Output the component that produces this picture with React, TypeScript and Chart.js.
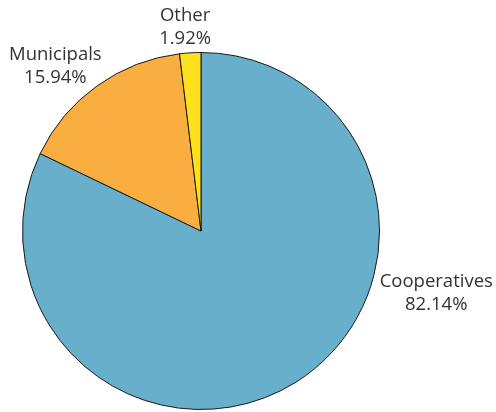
import React, { useEffect, useRef } from "react";
import { Chart, registerables } from "chart.js";

Chart.register(...registerables);

const categories = ["Cooperatives", "Municipals", "Other"];
const shares = [82.14, 15.94, 1.92];
const colors = ["#67AFCB", "#FBAE40", "#FEE01B"];
// label anchors, in units of the pie radius, relative to the pie centre
const labelOffsets = [
  [1.318, 0.346],
  [-0.816, -0.922],
  [-0.089, -1.14],
];

const labelPlugin = {
  id: "outerLabels",
  afterDatasetsDraw(chart: any) {
    const meta = chart.getDatasetMeta(0);
    const ctx = chart.ctx;
    ctx.save();
    ctx.font = "18.5px 'Open Sans'";
    ctx.fillStyle = "#333333";
    ctx.textAlign = "center";
    ctx.textBaseline = "middle";
    meta.data.forEach((arc: any, i: number) => {
      const r = arc.outerRadius;
      const x = arc.x + labelOffsets[i][0] * r;
      const y = arc.y + labelOffsets[i][1] * r;
      ctx.fillText(categories[i], x, y - 11.5);
      ctx.fillText(shares[i].toFixed(2) + "%", x, y + 11.5);
    });
    ctx.restore();
  },
};

export default function App() {
  const ref = useRef<HTMLCanvasElement>(null);
  useEffect(() => {
    document.body.style.margin = "0";
    const chart = new Chart(ref.current!, {
      type: "pie",
      data: {
        labels: categories,
        datasets: [
          {
            data: shares,
            backgroundColor: colors,
            borderColor: "#1a1a1a",
            borderWidth: 1,
          },
        ],
      },
      options: {
        animation: false,
        responsive: false,
        layout: { padding: { top: 52, bottom: 2, left: 22, right: 116 } },
        plugins: { legend: { display: false }, tooltip: { enabled: false } },
      },
      plugins: [labelPlugin],
    });
    return () => chart.destroy();
  }, []);
  return (
    <div style={{ width: 496, height: 412, background: "#fff" }}>
      <canvas ref={ref} width={496} height={412} style={{ display: "block" }} />
    </div>
  );
}
